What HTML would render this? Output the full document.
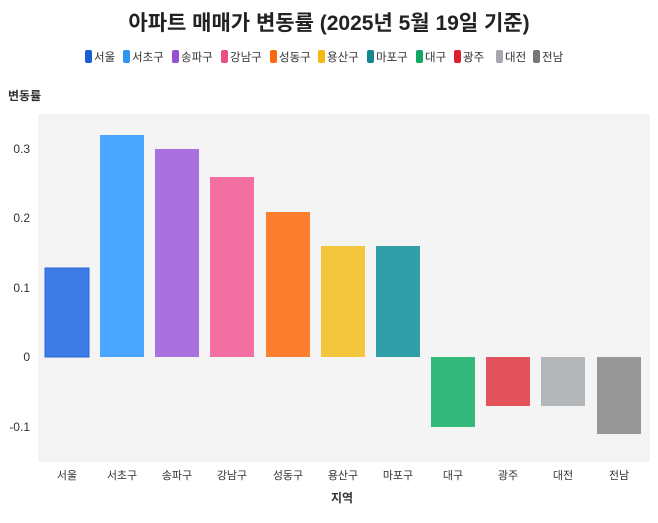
<!DOCTYPE html><html><head><meta charset="utf-8"><style>body{margin:0;background:#fff}svg{display:block;font-family:"Liberation Sans","Noto Sans CJK KR",sans-serif}</style></head><body>
<svg width="658" height="523" viewBox="0 0 658 523">
<text x="329" y="30" text-anchor="middle" font-size="21" font-weight="bold" fill="#222">아파트 매매가 변동률 (2025년 5월 19일 기준)</text>
<g font-size="11.5" fill="#333">
<rect x="85" y="50" width="7" height="13" rx="2" fill="#1a5fd6"/><text x="94" y="61">서울</text>
<rect x="123" y="50" width="7" height="13" rx="2" fill="#2f96f5"/><text x="132" y="61">서초구</text>
<rect x="172" y="50" width="7" height="13" rx="2" fill="#9550d6"/><text x="181" y="61">송파구</text>
<rect x="221" y="50" width="7" height="13" rx="2" fill="#ef4c8a"/><text x="230" y="61">강남구</text>
<rect x="270" y="50" width="7" height="13" rx="2" fill="#fb6a10"/><text x="279" y="61">성동구</text>
<rect x="318" y="50" width="7" height="13" rx="2" fill="#f3b912"/><text x="327" y="61">용산구</text>
<rect x="367" y="50" width="7" height="13" rx="2" fill="#148690"/><text x="376" y="61">마포구</text>
<rect x="416" y="50" width="7" height="13" rx="2" fill="#10a862"/><text x="425" y="61">대구</text>
<rect x="454" y="50" width="7" height="13" rx="2" fill="#dc2030"/><text x="463" y="61">광주</text>
<rect x="496" y="50" width="7" height="13" rx="2" fill="#a5a8ac"/><text x="505" y="61">대전</text>
<rect x="533" y="50" width="7" height="13" rx="2" fill="#777"/><text x="542" y="61">전남</text>
</g>
<text x="8" y="100" font-size="12" font-weight="bold" fill="#333">변동률</text>
<rect x="38" y="114" width="612" height="348" fill="#f4f4f4"/>
<g font-size="12" fill="#333" text-anchor="end">
<text x="30" y="153">0.3</text><text x="30" y="222">0.2</text><text x="30" y="292">0.1</text><text x="30" y="361">0</text><text x="30" y="431">-0.1</text>
</g>
<g stroke-width="1">
<rect x="45" y="268" width="44" height="89" fill="#3d7be6" stroke="#2a67d8"/>
<rect x="100" y="135" width="44" height="222" fill="#4aa6ff"/>
<rect x="155" y="149" width="44" height="208" fill="#a970df"/>
<rect x="210" y="177" width="44" height="180" fill="#f36fa2"/>
<rect x="266" y="212" width="44" height="145" fill="#fb7f2e"/>
<rect x="321" y="246" width="44" height="111" fill="#f3c53d"/>
<rect x="376" y="246" width="44" height="111" fill="#319fa8"/>
<rect x="431" y="357" width="44" height="70" fill="#33b97c"/>
<rect x="486" y="357" width="44" height="49" fill="#e2535b"/>
<rect x="541" y="357" width="44" height="49" fill="#b4b7ba"/>
<rect x="597" y="357" width="44" height="77" fill="#979797"/>
</g>
<g font-size="11" fill="#333" text-anchor="middle">
<text x="67" y="479">서울</text><text x="122" y="479">서초구</text><text x="177" y="479">송파구</text><text x="232" y="479">강남구</text><text x="288" y="479">성동구</text><text x="343" y="479">용산구</text><text x="398" y="479">마포구</text><text x="453" y="479">대구</text><text x="508" y="479">광주</text><text x="563" y="479">대전</text><text x="619" y="479">전남</text>
</g>
<text x="342" y="502" font-size="12" font-weight="bold" fill="#333" text-anchor="middle">지역</text>
</svg></body></html>
